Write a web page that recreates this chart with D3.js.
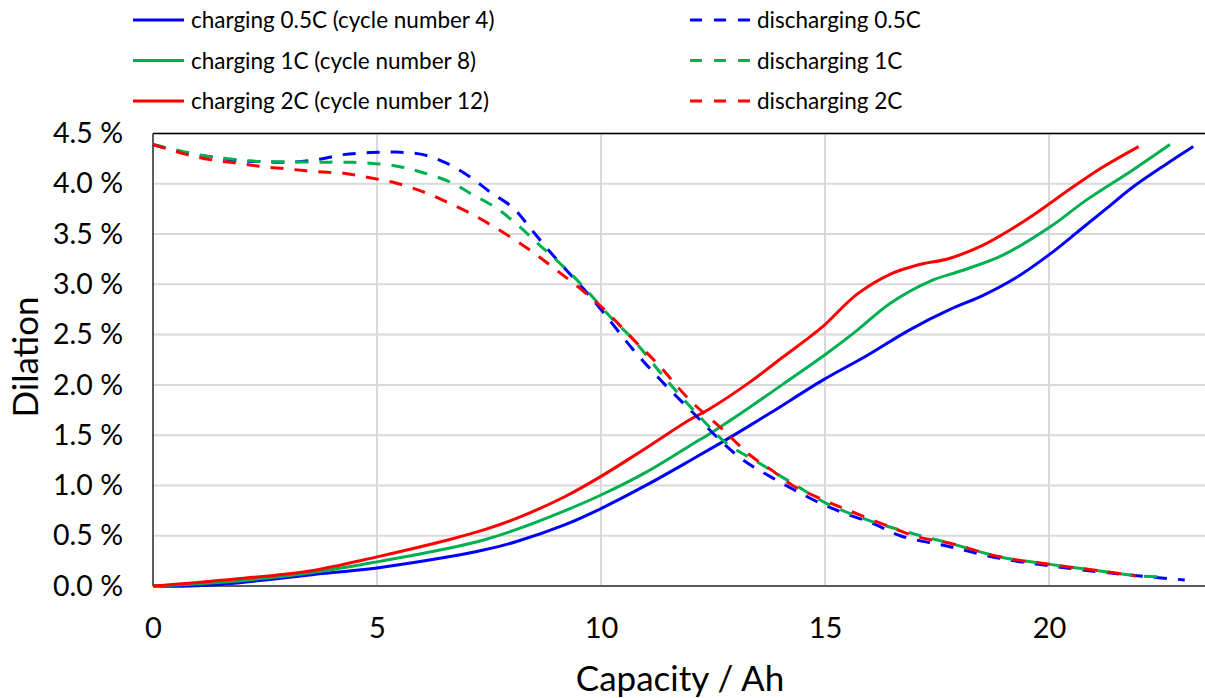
<!DOCTYPE html>
<html>
<head>
<meta charset="utf-8">
<script src="https://cdn.jsdelivr.net/npm/d3@7"></script>
<style>
  body { margin: 0; background: #fff; }
  svg { display: block; font-family: Lato, "Open Sans", sans-serif; }
</style>
</head>
<body>
<svg id="chart" width="1205" height="698"></svg>
<script>
// capacity (Ah), dilation (%)
var chg05 = [[0,0],[0.8,0.0],[1.6,0.02],[2.5,0.06],[3.5,0.11],[5.0,0.18],[6.6,0.29],[7.4,0.36],[8.1,0.44],[9.2,0.61],[10.0,0.77],[11.0,1.0],[12.0,1.25],[12.7,1.43],[13.3,1.59],[13.85,1.74],[14.96,2.05],[15.93,2.29],[16.9,2.55],[17.79,2.75],[18.53,2.89],[19.28,3.07],[20.02,3.3],[20.69,3.54],[21.3,3.76],[21.88,3.97],[22.6,4.19],[23.22,4.37]];
var chg1 = [[0,0],[1.6,0.04],[3.5,0.13],[5.0,0.24],[6.6,0.375],[7.4,0.46],[8.1,0.56],[9.2,0.75],[10.0,0.905],[11.0,1.13],[12.0,1.4],[12.5,1.535],[13.33,1.78],[14.07,2.01],[15.0,2.3],[15.71,2.54],[16.45,2.81],[17.34,3.03],[18.08,3.14],[18.97,3.29],[20.02,3.57],[20.84,3.84],[21.88,4.14],[22.7,4.39]];
var chg2 = [[0,0],[1.6,0.06],[3.5,0.15],[5.0,0.29],[6.6,0.46],[7.4,0.56],[8.1,0.67],[9.2,0.89],[10.0,1.09],[11.0,1.37],[11.97,1.65],[12.42,1.76],[13.33,2.03],[14.07,2.28],[14.67,2.48],[15.0,2.6],[15.71,2.9],[16.45,3.1],[17.05,3.19],[17.79,3.26],[18.53,3.39],[19.13,3.54],[19.65,3.69],[20.54,3.97],[21.14,4.15],[22.0,4.37]];
var dis05 = [[0,4.39],[0.68,4.31],[1.27,4.27],[1.87,4.23],[2.46,4.22],[3.06,4.215],[3.65,4.24],[4.25,4.29],[4.84,4.31],[5.44,4.315],[6.03,4.29],[6.55,4.205],[7.07,4.07],[7.52,3.92],[8.04,3.76],[8.42,3.56],[8.79,3.36],[9.23,3.14],[9.6,2.96],[10.0,2.75],[10.72,2.35],[11.39,2.02],[12.06,1.72],[12.73,1.42],[13.18,1.25],[13.85,1.07],[14.82,0.84],[15.34,0.74],[16.08,0.62],[16.68,0.5],[17.79,0.39],[18.9,0.275],[20.02,0.2],[21.14,0.14],[22.03,0.1],[23.03,0.06]];
var dis1 = [[0,4.39],[0.68,4.32],[1.27,4.27],[1.87,4.24],[2.46,4.22],[3.06,4.22],[3.65,4.215],[4.25,4.215],[4.84,4.205],[5.51,4.17],[6.03,4.11],[6.62,4.02],[7.14,3.89],[7.66,3.76],[8.18,3.575],[8.63,3.39],[9.08,3.21],[9.6,2.98],[10.2,2.68],[10.72,2.45],[11.46,2.05],[12.2,1.685],[12.8,1.42],[13.54,1.22],[14.28,1.02],[15.04,0.82],[15.93,0.66],[17.05,0.51],[17.79,0.425],[18.9,0.29],[20.02,0.215],[21.14,0.15],[22.03,0.1],[22.55,0.09]];
var dis2 = [[0,4.39],[0.68,4.3],[1.27,4.24],[1.87,4.205],[2.46,4.17],[3.06,4.145],[3.65,4.12],[4.25,4.105],[4.84,4.06],[5.44,4.005],[6.03,3.92],[6.55,3.82],[7.07,3.71],[7.6,3.575],[8.12,3.43],[8.57,3.29],[9.01,3.14],[9.53,2.96],[10.05,2.76],[10.79,2.42],[11.24,2.22],[11.98,1.85],[12.73,1.55],[13.33,1.3],[13.85,1.14],[14.28,1.0],[14.89,0.87],[15.48,0.76],[16.53,0.575],[17.05,0.49],[17.79,0.425],[18.9,0.29],[20.02,0.215],[21.14,0.15],[21.95,0.1]];

var seriesNames = ["charging 0.5C (cycle number 4)", "charging 1C (cycle number 8)", "charging 2C (cycle number 12)",
                   "discharging 0.5C", "discharging 1C", "discharging 2C"];
var seriesColors = ["#0000ff", "#00b050", "#ff0000"];
var xTicks = [0, 5, 10, 15, 20];
var yTicks = [0, 0.5, 1, 1.5, 2, 2.5, 3, 3.5, 4, 4.5];

var series = [
  {name: seriesNames[0], data: chg05, color: seriesColors[0], dash: null},
  {name: seriesNames[1], data: chg1,  color: seriesColors[1], dash: null},
  {name: seriesNames[2], data: chg2,  color: seriesColors[2], dash: null},
  {name: seriesNames[3], data: dis05, color: seriesColors[0], dash: "13,11"},
  {name: seriesNames[4], data: dis1,  color: seriesColors[1], dash: "13,11"},
  {name: seriesNames[5], data: dis2,  color: seriesColors[2], dash: "13,11"}
];

var svg = d3.select("#chart");
// plot box (note: "top" is taken by window.top)
var plotLeft = 153, plotTop = 133.5, plotBottom = 586, plotRight = 1205;

var x = d3.scaleLinear().domain([0, 24]).range([plotLeft, plotLeft + 24 * 44.8]);
var y = d3.scaleLinear().domain([0, 4.5]).range([plotBottom, plotTop]);

// grid
svg.append("g").selectAll("line").data(yTicks.slice(1)).enter().append("line")
  .attr("x1", plotLeft).attr("x2", plotRight)
  .attr("y1", function(d) { return y(d); }).attr("y2", function(d) { return y(d); })
  .attr("stroke", "#d9d9d9").attr("stroke-width", 2);
svg.append("g").selectAll("line").data(xTicks.slice(1)).enter().append("line")
  .attr("x1", function(d) { return x(d); }).attr("x2", function(d) { return x(d); })
  .attr("y1", plotTop).attr("y2", plotBottom)
  .attr("stroke", "#d9d9d9").attr("stroke-width", 2);

// frame
svg.append("line").attr("x1", plotLeft).attr("x2", plotRight).attr("y1", plotTop).attr("y2", plotTop)
  .attr("stroke", "#000").attr("stroke-width", 1.5);
svg.append("line").attr("x1", plotLeft).attr("x2", plotLeft).attr("y1", plotTop).attr("y2", plotBottom)
  .attr("stroke", "#262626").attr("stroke-width", 1.5);

// axes
var xAxis = d3.axisBottom(x).tickValues(xTicks).tickSize(0).tickPadding(31);
var gx = svg.append("g").attr("transform", "translate(0," + plotBottom + ")").call(xAxis);
gx.select(".domain").attr("d", "M" + plotLeft + ",0H" + plotRight).attr("stroke", "#595959").attr("stroke-width", 2);
gx.selectAll("text").attr("font-size", 29).attr("fill", "#000").attr("font-family", "Lato, sans-serif");

var yAxis = d3.axisLeft(y).tickValues(yTicks).tickSize(0).tickPadding(30)
  .tickFormat(function(d) { return d3.format(".1f")(d) + " %"; });
var gy = svg.append("g").attr("transform", "translate(" + plotLeft + ",0)").call(yAxis);
gy.select(".domain").remove();
gy.selectAll("text").attr("font-size", 28.5).attr("fill", "#000").attr("font-family", "Lato, sans-serif");

// curves
var line = d3.line()
  .x(function(d) { return x(d[0]); })
  .y(function(d) { return y(d[1]); })
  .curve(d3.curveCatmullRom.alpha(0.5));

series.forEach(function(s) {
  svg.append("path")
    .datum(s.data)
    .attr("d", line)
    .attr("fill", "none")
    .attr("stroke", s.color)
    .attr("stroke-width", 3)
    .attr("stroke-dasharray", s.dash);
});

// axis titles
svg.append("text").attr("x", 680).attr("y", 691).attr("text-anchor", "middle")
  .attr("font-size", 35).attr("fill", "#000").text("Capacity / Ah");
svg.append("text").attr("transform", "translate(38,357) rotate(-90)").attr("text-anchor", "middle")
  .attr("font-size", 35).attr("fill", "#000").text("Dilation");

// legend
var legend = svg.append("g");
series.forEach(function(s, i) {
  var col = i < 3 ? 0 : 1, row = i % 3;
  var lx = col === 0 ? 133 : 690, lw = col === 0 ? 51 : 60;
  var ly = 20 + row * 40.5;
  legend.append("line")
    .attr("x1", lx).attr("x2", lx + lw).attr("y1", ly).attr("y2", ly)
    .attr("stroke", s.color).attr("stroke-width", 3)
    .attr("stroke-dasharray", s.dash ? "12,12" : null);
  legend.append("text")
    .attr("x", lx + lw + 7).attr("y", ly + 8)
    .attr("font-size", 22.5).attr("fill", "#000")
    .text(s.name);
});
</script>
</body>
</html>
